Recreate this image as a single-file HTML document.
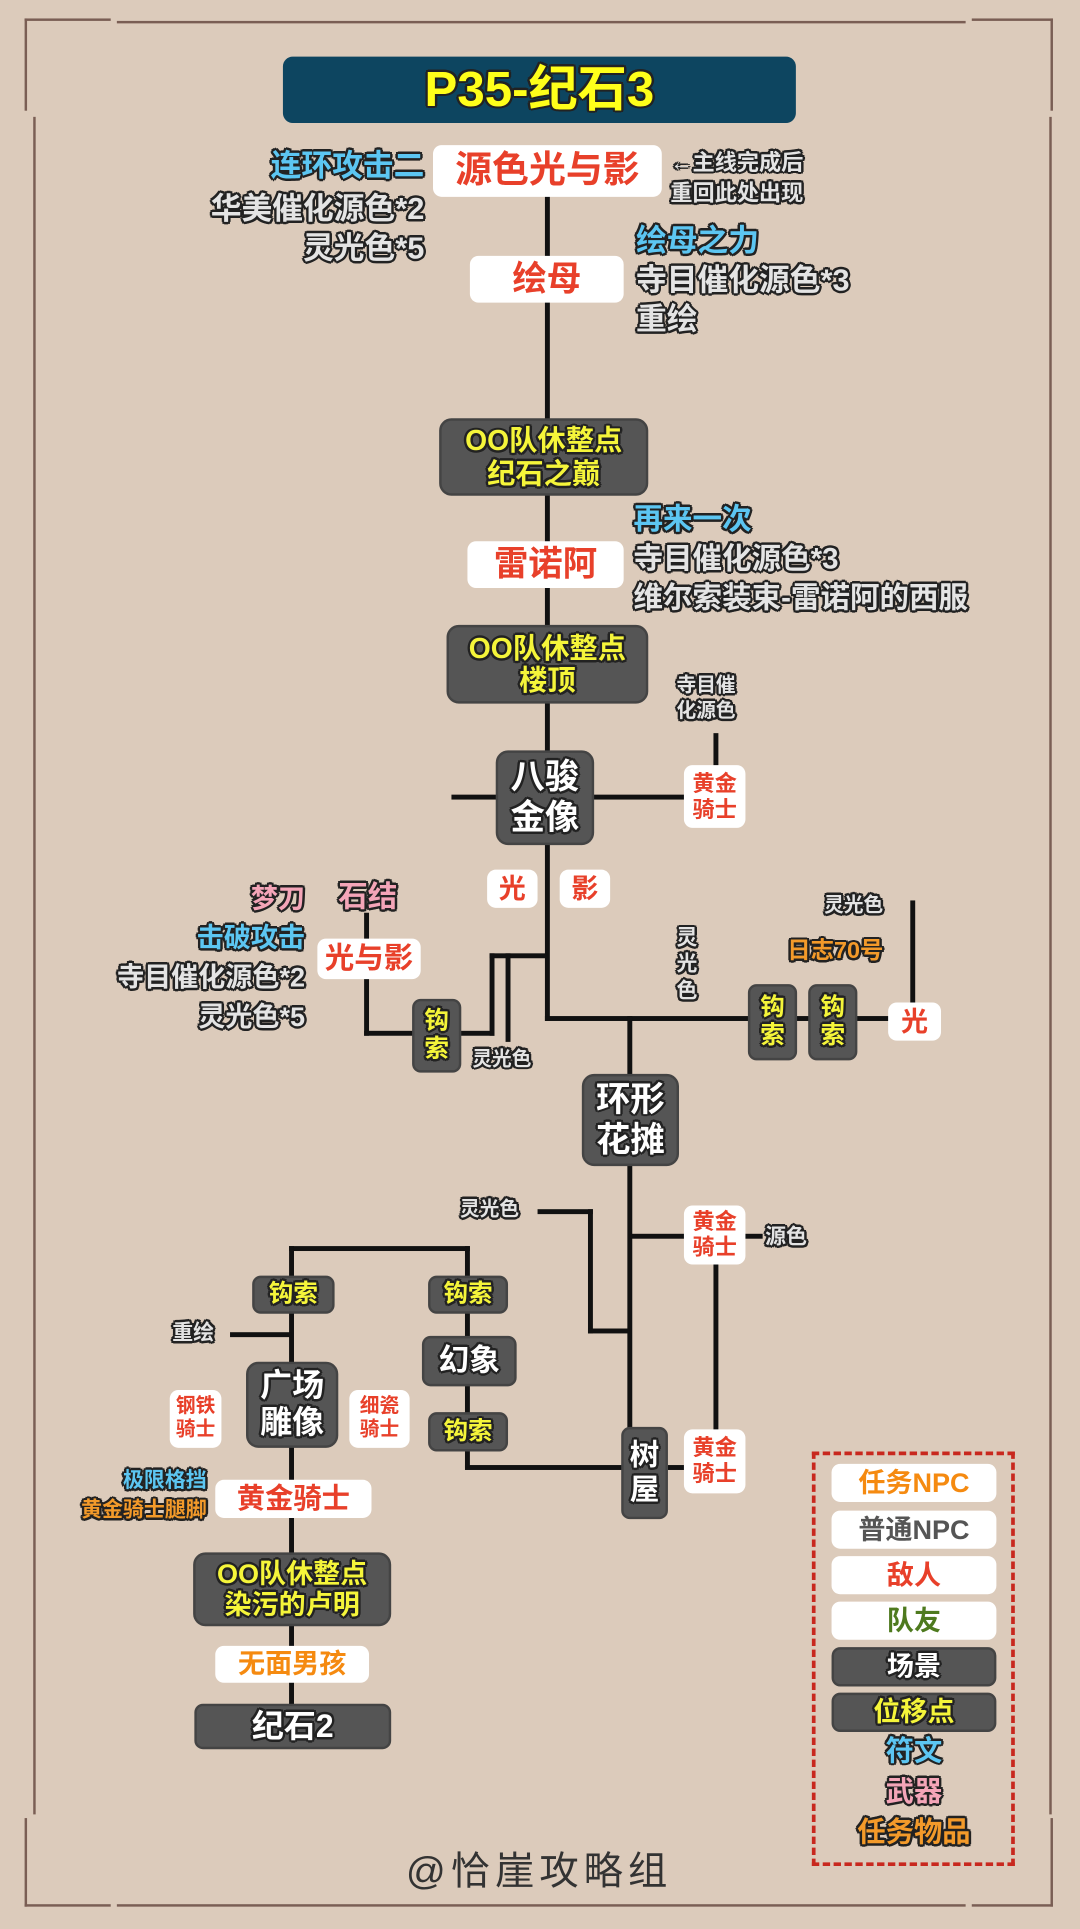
<!DOCTYPE html>
<html><head><meta charset="utf-8"><style>
html,body{margin:0;padding:0;}
body{width:1080px;height:1929px;overflow:hidden;background:#dccbbb;}
#s{position:absolute;left:0;top:0;width:878px;height:1568px;transform:scale(1.2301);transform-origin:0 0;font-family:"Liberation Sans","Noto Sans CJK SC",sans-serif;font-weight:bold;}
#s div{position:absolute;box-sizing:border-box;}
.l{background:#111;}
.b{display:flex;align-items:center;justify-content:center;text-align:center;border-radius:7px;line-height:1.15;}
.w{background:#fff;color:#e8402a;}
.d{background:#555;color:#fff;border:2px solid #444;}
.y{color:#f5f53a;}
.o{text-shadow:-1.5px -1.5px 0 #222,1.5px -1.5px 0 #222,-1.5px 1.5px 0 #222,1.5px 1.5px 0 #222,0 2px 0 #222,2px 0 0 #222,-2px 0 0 #222,0 -2px 0 #222;}
.t{color:#e4e4e4;white-space:nowrap;line-height:1.2;}
.c{color:#5cc6f2;}
.p{color:#f4a5b8;}
.or{color:#f39a2a;}
.fr{background:#7a5e54;}
</style></head><body><div id="s">
<!-- frame -->
<div class="fr" style="left:95px;top:17px;width:690px;height:2px"></div>
<div class="fr" style="left:95px;top:1548px;width:690px;height:2px"></div>
<div class="fr" style="left:27px;top:95px;width:2px;height:1380px"></div>
<div class="fr" style="left:853px;top:95px;width:2px;height:1380px"></div>
<div style="left:20px;top:15px;width:70px;height:75px;border:2px solid #7a5e54;border-right:none;border-bottom:none;"></div>
<div style="left:790px;top:15px;width:66px;height:75px;border:2px solid #7a5e54;border-left:none;border-bottom:none;"></div>
<div style="left:20px;top:1478px;width:70px;height:72px;border:2px solid #7a5e54;border-right:none;border-top:none;"></div>
<div style="left:790px;top:1478px;width:66px;height:72px;border:2px solid #7a5e54;border-left:none;border-top:none;"></div>

<div class="b" style="left:230px;top:46px;width:417px;height:54px;background:#0d4560;border-radius:8px;"><span class="o" style="color:#ffff1a;font-size:40px;">P35-纪石3</span></div>

<!-- lines -->
<div class="l" style="left:443px;top:158px;width:4px;height:672px"></div>
<div class="l" style="left:367px;top:646px;width:190px;height:4px"></div>
<div class="l" style="left:580px;top:596px;width:4px;height:28px"></div>
<div class="l" style="left:443px;top:826px;width:280px;height:4px"></div>
<div class="l" style="left:740px;top:732px;width:4px;height:84px"></div>
<div class="l" style="left:398px;top:775px;width:47px;height:4px"></div>
<div class="l" style="left:398px;top:775px;width:4px;height:67px"></div>
<div class="l" style="left:372px;top:838px;width:30px;height:4px"></div>
<div class="l" style="left:411px;top:775px;width:4px;height:72px"></div>
<div class="l" style="left:296px;top:742px;width:4px;height:100px"></div>
<div class="l" style="left:296px;top:838px;width:40px;height:4px"></div>
<div class="l" style="left:510px;top:826px;width:4px;height:365px"></div>
<div class="l" style="left:437px;top:983px;width:45px;height:4px"></div>
<div class="l" style="left:478px;top:983px;width:4px;height:101px"></div>
<div class="l" style="left:478px;top:1080px;width:34px;height:4px"></div>
<div class="l" style="left:512px;top:1003px;width:45px;height:4px"></div>
<div class="l" style="left:604px;top:1003px;width:16px;height:4px"></div>
<div class="l" style="left:580px;top:1026px;width:4px;height:140px"></div>
<div class="l" style="left:378px;top:1191px;width:128px;height:4px"></div>
<div class="l" style="left:543px;top:1191px;width:14px;height:4px"></div>
<div class="l" style="left:378px;top:1013px;width:4px;height:180px"></div>
<div class="l" style="left:235px;top:1013px;width:147px;height:4px"></div>
<div class="l" style="left:235px;top:1013px;width:4px;height:380px"></div>
<div class="l" style="left:187px;top:1083px;width:50px;height:4px"></div>

<!-- top section -->
<div class="b w" style="left:352px;top:118px;width:186px;height:42px;font-size:30px;"><span class="o" style="text-shadow:none">源色光与影</span></div>
<div class="t o c" style="right:533px;top:120px;font-size:25px;">连环攻击二</div>
<div class="t o" style="right:533px;top:155px;font-size:25px;">华美催化源色*2</div>
<div class="t o" style="right:533px;top:187px;font-size:25px;">灵光色*5</div>
<div class="t o" style="left:545px;top:122px;font-size:18px;">←主线完成后</div>
<div class="t o" style="left:545px;top:147px;font-size:18px;">重回此处出现</div>

<div class="b w" style="left:382px;top:208px;width:125px;height:38px;font-size:28px;">绘母</div>
<div class="t o c" style="left:517px;top:181px;font-size:25px;">绘母之力</div>
<div class="t o" style="left:517px;top:213px;font-size:25px;">寺目催化源色*3</div>
<div class="t o" style="left:517px;top:245px;font-size:25px;">重绘</div>

<div class="b d y" style="left:357px;top:340px;width:170px;height:63px;font-size:23px;border-radius:10px;"><span class="o">OO队休整点<br>纪石之巅</span></div>

<div class="b w" style="left:380px;top:440px;width:127px;height:38px;font-size:28px;">雷诺阿</div>
<div class="t o c" style="left:515px;top:409px;font-size:24px;">再来一次</div>
<div class="t o" style="left:515px;top:441px;font-size:24px;">寺目催化源色*3</div>
<div class="t o" style="left:515px;top:473px;font-size:24px;">维尔索装束-雷诺阿的西服</div>

<div class="b d y" style="left:363px;top:508px;width:164px;height:64px;font-size:23px;border-radius:10px;"><span class="o">OO队休整点<br>楼顶</span></div>

<div class="t o" style="left:550px;top:548px;font-size:16px;text-align:center;line-height:1.3;">寺目催<br>化源色</div>
<div class="b d" style="left:403px;top:610px;width:80px;height:77px;font-size:28px;border-radius:10px;"><span class="o">八骏<br>金像</span></div>
<div class="b w" style="left:556px;top:622px;width:50px;height:51px;font-size:18px;">黄金<br>骑士</div>

<div class="b w" style="left:396px;top:707px;width:41px;height:31px;font-size:22px;">光</div>
<div class="b w" style="left:455px;top:707px;width:41px;height:31px;font-size:22px;">影</div>

<div class="t o p" style="right:630px;top:718px;font-size:22px;">梦刀</div>
<div class="t o c" style="right:630px;top:750px;font-size:22px;">击破攻击</div>
<div class="t o" style="right:630px;top:782px;font-size:22px;">寺目催化源色*2</div>
<div class="t o" style="right:630px;top:814px;font-size:22px;">灵光色*5</div>
<div class="t o p" style="left:275px;top:716px;font-size:24px;">石结</div>
<div class="b w" style="left:258px;top:763px;width:84px;height:33px;font-size:24px;">光与影</div>
<div class="b d y" style="left:335px;top:812px;width:40px;height:60px;font-size:20px;"><span class="o">钩<br>索</span></div>
<div class="t o" style="left:384px;top:852px;font-size:16px;">灵光色</div>

<div class="t o" style="left:550px;top:752px;font-size:17px;line-height:1.25;">灵<br>光<br>色</div>
<div class="t o" style="left:670px;top:727px;font-size:16px;">灵光色</div>
<div class="t o or" style="left:640px;top:763px;font-size:19px;">日志70号</div>
<div class="b d y" style="left:608px;top:800px;width:40px;height:62px;font-size:20px;"><span class="o">钩<br>索</span></div>
<div class="b d y" style="left:657px;top:800px;width:40px;height:62px;font-size:20px;"><span class="o">钩<br>索</span></div>
<div class="b w" style="left:722px;top:815px;width:43px;height:31px;font-size:22px;">光</div>

<div class="b d" style="left:473px;top:873px;width:79px;height:75px;font-size:28px;border-radius:10px;"><span class="o">环形<br>花摊</span></div>

<div class="t o" style="left:374px;top:974px;font-size:16px;">灵光色</div>
<div class="b w" style="left:556px;top:980px;width:50px;height:48px;font-size:18px;">黄金<br>骑士</div>
<div class="t o" style="left:622px;top:996px;font-size:17px;">源色</div>

<div class="b d y" style="left:205px;top:1037px;width:67px;height:31px;font-size:20px;"><span class="o">钩索</span></div>
<div class="b d y" style="left:348px;top:1037px;width:65px;height:31px;font-size:20px;"><span class="o">钩索</span></div>
<div class="t o" style="left:140px;top:1074px;font-size:17px;">重绘</div>
<div class="b d" style="left:343px;top:1086px;width:77px;height:41px;font-size:25px;"><span class="o">幻象</span></div>
<div class="b d" style="left:200px;top:1107px;width:75px;height:70px;font-size:26px;border-radius:10px;"><span class="o">广场<br>雕像</span></div>
<div class="b w" style="left:138px;top:1130px;width:42px;height:47px;font-size:16px;">钢铁<br>骑士</div>
<div class="b w" style="left:284px;top:1130px;width:49px;height:47px;font-size:16px;">细瓷<br>骑士</div>
<div class="b d y" style="left:348px;top:1148px;width:65px;height:32px;font-size:20px;"><span class="o">钩索</span></div>
<div class="b d" style="left:505px;top:1160px;width:38px;height:75px;font-size:24px;"><span class="o">树<br>屋</span></div>
<div class="b w" style="left:556px;top:1162px;width:50px;height:52px;font-size:18px;">黄金<br>骑士</div>

<div class="t o c" style="right:710px;top:1194px;font-size:17px;">极限格挡</div>
<div class="t o or" style="right:710px;top:1218px;font-size:17px;">黄金骑士腿脚</div>
<div class="b w" style="left:175px;top:1203px;width:127px;height:31px;font-size:23px;">黄金骑士</div>
<div class="b d y" style="left:157px;top:1262px;width:161px;height:60px;font-size:22px;border-radius:10px;"><span class="o">OO队休整点<br>染污的卢明</span></div>
<div class="b w" style="left:175px;top:1338px;width:125px;height:30px;font-size:22px;color:#f58a10;">无面男孩</div>
<div class="b d" style="left:158px;top:1385px;width:160px;height:37px;font-size:26px;"><span class="o">纪石2</span></div>

<!-- legend -->
<div style="left:660px;top:1180px;width:165px;height:337px;border:3px dashed #c8281e;"></div>
<div class="b w" style="left:676px;top:1190px;width:134px;height:31px;font-size:22px;color:#f58a10;">任务NPC</div>
<div class="b w" style="left:676px;top:1228px;width:134px;height:31px;font-size:22px;color:#555;">普通NPC</div>
<div class="b w" style="left:676px;top:1265px;width:134px;height:31px;font-size:22px;">敌人</div>
<div class="b w" style="left:676px;top:1302px;width:134px;height:31px;font-size:22px;color:#4e7a1e;">队友</div>
<div class="b d" style="left:676px;top:1339px;width:134px;height:32px;font-size:22px;"><span class="o">场景</span></div>
<div class="b d y" style="left:676px;top:1376px;width:134px;height:32px;font-size:22px;"><span class="o">位移点</span></div>
<div class="t o c" style="left:676px;width:134px;text-align:center;top:1410px;font-size:23px;">符文</div>
<div class="t o p" style="left:676px;width:134px;text-align:center;top:1443px;font-size:23px;">武器</div>
<div class="t o or" style="left:676px;width:134px;text-align:center;top:1476px;font-size:23px;">任务物品</div>

<div class="t" style="left:330px;width:214px;text-align:center;top:1502px;font-size:32px;color:#333;font-weight:normal;letter-spacing:4px;">@恰崖攻略组</div>
</div></body></html>
